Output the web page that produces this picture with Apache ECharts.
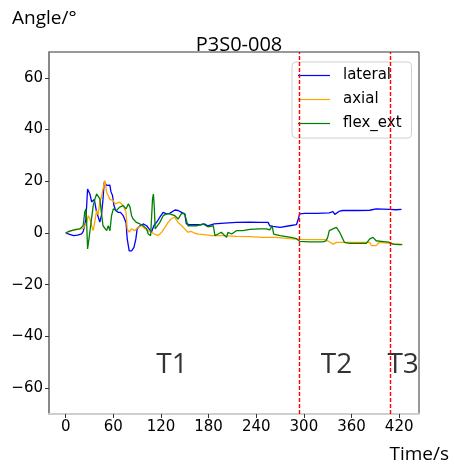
<!DOCTYPE html>
<html><head><meta charset="utf-8">
<script src="https://cdn.jsdelivr.net/npm/echarts@6/dist/echarts.min.js"></script>
<style>html,body{margin:0;padding:0;background:#fff}#c{width:454px;height:466px}</style>
</head><body><div id="c"></div>
<script>
const xTicks = [0, 60, 120, 180, 240, 300, 360, 420];
const yTicks = [-60, -40, -20, 0, 20, 40, 60];
const seriesNames = ['lateral', 'axial', 'flex_ext'];
const dividers = [294, 409];
const phaseLabels = ['T1', 'T2', 'T3'];
const phaseX = [134, 341, 425];
const phaseY = [-51, -51, -51];

const lateral = [[0,0],[5,-0.5],[10,-1],[15,-0.8],[20,-0.3],[22,0.5],[24,3],[25.5,5.4],[27.6,17],[30.6,15],[32.7,12],[36,13],[39,8],[41,6.2],[43,4.2],[45,6.7],[47,13],[48.6,19.8],[51.6,18.4],[53.6,19],[55.7,18.5],[57,16],[59,14.5],[60.8,10.6],[63,8.7],[66,8],[69,8],[72.5,6.7],[76,4.1],[77.5,-2.3],[80,-6.9],[83,-6.9],[86,-5.6],[88.4,-2.3],[90,1.6],[93.5,2.8],[97.6,3.5],[102,2.8],[105,1.6],[108,0.3],[111,2.8],[114.5,4.1],[118.6,6.1],[122.8,8],[127,7.4],[131,7.6],[133,7.8],[137.5,8.9],[141.6,8.7],[146,8],[150,7.4],[152,3.5],[156,3.2],[163,3.2],[171,3.2],[175,3.5],[179,2.8],[187,3.5],[200,3.8],[215,4.1],[232,4.2],[245,4.1],[255,4.1],[257,2.8],[261,2.6],[270,2.2],[282,2.8],[290.6,3.2],[292.6,5],[294.7,7.4],[301,7.6],[316,7.6],[332,7.8],[336.6,8.3],[339,7.2],[341,7.6],[345,8.5],[349,8.7],[366,8.7],[383,8.8],[391,9.3],[408,9.1],[416,9],[423,9.1]];

const axial = [[0,0],[7.5,0.9],[18,1.6],[22,1.8],[26.4,4.1],[28.5,6.7],[30.6,5.4],[32.7,2.8],[34.7,0.9],[36.9,4.8],[39,8.7],[41,7],[43,11.9],[45,13.9],[47,17],[49.4,20.3],[51.6,15.8],[53.6,15.8],[55.7,13],[60,12.5],[62,11.3],[68,11.9],[72.5,10.6],[76,8],[77.5,1.6],[80,0.3],[83,1.6],[87,0.9],[91,2.2],[95.6,2.8],[100,1.6],[104,0.9],[108,0.3],[112,-0.4],[116.5,-1],[121,0.3],[125,2.2],[129,4.1],[133,5.5],[137,6.1],[141.6,4.1],[146,2.8],[150,1.6],[154,0.3],[158.5,0.6],[162.6,-0.1],[167,-0.4],[175,-0.6],[184,-1],[198,-1],[215,-1.3],[232,-1.4],[248,-1.7],[265,-1.7],[282,-2.2],[294.7,-2.5],[311,-2.6],[328,-2.6],[332,-3.4],[336.6,-4.3],[341,-3.6],[366,-3.6],[383,-3.6],[385,-4.9],[391,-4.9],[395,-3.6],[408,-4],[416,-4.3],[423,-4.3]];

const flexExt = [[0,0],[3,0.5],[11.7,1.3],[18,1.6],[22,2.8],[24,8],[25.5,9.3],[26.4,4.1],[27.6,-6.2],[29.3,-2.3],[32,4.1],[34.7,10.6],[36.9,13.2],[39,15.1],[41,15.8],[43,13.2],[45,8],[47,2.8],[49.4,2.2],[51.6,0.9],[53.6,2.8],[55.7,0.9],[57.8,6.7],[60,9.3],[64,8.7],[68,10],[72.5,10.6],[76,9.3],[79,11.3],[81,10],[83,6.7],[85,5.4],[89,4.1],[93.5,3.5],[97.6,2.8],[102,1.6],[104,-0.4],[107,-1],[109.4,13.2],[110.5,15.1],[111.5,10.6],[112.7,1.6],[115,1.6],[118.6,4.1],[122.8,6.7],[127,7.4],[131,7.4],[137.5,6.7],[141.6,5.4],[146,7.6],[150,7.4],[152,5],[154,2.8],[165,2.8],[173,3.5],[179,2.4],[186,2.8],[188,-1],[192,-0.4],[196,0.3],[202.6,-1.7],[204.5,0.3],[209,-0.4],[215,0.9],[223,0.9],[232,1.4],[244,1.6],[253,1.6],[257,1.2],[260,2.8],[262,-0.4],[270,-1],[282,-1.6],[290.6,-2.2],[294.7,-3.2],[307,-3.4],[324,-3.4],[328,-3],[330,-1.7],[332,0.9],[336.6,1.6],[341,2.2],[343,2.4],[345,0.3],[347,-1],[351,-3.6],[357.6,-4],[378.6,-4],[383,-2.3],[387,-1.7],[391,-3],[397.5,-3.2],[404,-3.4],[408,-3.6],[412,-4.3],[420.5,-4.5],[424,-4.5]];

const colors = ['#0000ff', '#ffa500', '#008000'];
const tickFont = 'DejaVu Sans';
const textFont = 'Open Sans';

const chart = echarts.init(document.getElementById('c'), null, {renderer: 'canvas'});
const minus = v => String(v).replace('-', '\u2212');

chart.setOption({
  animation: false,
  backgroundColor: '#fff',
  title: [
    {text: 'P3S0-008', left: 234, top: 30, textAlign: 'center',
     textStyle: {fontFamily: textFont, fontSize: 20, fontWeight: 'normal', color: '#000'}},
    {text: 'Angle/\u00b0', left: 7, top: 4,
     textStyle: {fontFamily: textFont, fontSize: 19, fontWeight: 'normal', color: '#000'}},
    {text: 'Time/s', right: 0, top: 440,
     textStyle: {fontFamily: textFont, fontSize: 19, fontWeight: 'normal', color: '#000'}}
  ],
  grid: {left: 49, right: 35, top: 52, bottom: 52, show: true, borderColor: '#333', borderWidth: 1, containLabel: false},
  legend: {
    data: seriesNames, orient: 'vertical', left: 292, top: 62,
    padding: [6, 10, 7, 6], itemGap: 9, itemWidth: 32, itemHeight: 14,
    icon: 'path://M0,6.5 L32,6.5 L32,7.7 L0,7.7 Z',
    backgroundColor: 'rgba(255,255,255,0.8)', borderColor: '#d0d0d0', borderWidth: 1, borderRadius: 4,
    textStyle: {fontFamily: tickFont, fontSize: 15, color: '#000', padding: [0, 0, 0, 8]}
  },
  xAxis: {
    type: 'value', min: -21, max: 445,
    axisLine: {show: true, onZero: false, lineStyle: {color: '#cfcfcf', width: 2}},
    axisTick: {show: true, customValues: xTicks, length: 4, lineStyle: {color: '#333'}},
    axisLabel: {customValues: xTicks, margin: 6, fontFamily: tickFont, fontSize: 15, color: '#000', formatter: minus},
    splitLine: {show: false}
  },
  yAxis: {
    type: 'value', min: -70, max: 70,
    axisLine: {show: true, onZero: false, lineStyle: {color: '#888', width: 2}},
    axisTick: {show: true, customValues: yTicks, length: 4, lineStyle: {color: '#333'}},
    axisLabel: {customValues: yTicks, margin: 6, fontFamily: tickFont, fontSize: 15, color: '#000', formatter: minus},
    splitLine: {show: false}
  },
  series: [
    {name: 'lateral', type: 'line', data: lateral, symbol: 'none', lineStyle: {color: colors[0], width: 1.3}, itemStyle: {color: colors[0]},
     markLine: {silent: true, symbol: ['none', 'none'], label: {show: false},
       lineStyle: {color: '#ff0000', type: [4, 2], width: 1.4},
       data: dividers.map(x => ({xAxis: x}))}},
    {name: 'axial', type: 'line', data: axial, symbol: 'none', lineStyle: {color: colors[1], width: 1.3}, itemStyle: {color: colors[1]}},
    {name: 'flex_ext', type: 'line', data: flexExt, symbol: 'none', lineStyle: {color: colors[2], width: 1.3}, itemStyle: {color: colors[2]}},
    {name: 'phases', type: 'scatter', symbolSize: 1, itemStyle: {color: 'rgba(0,0,0,0)'},
     data: phaseX.map((x, i) => [x, phaseY[i], phaseLabels[i]]),
     label: {show: true, position: 'inside', formatter: p => p.data[2], fontFamily: textFont, fontSize: 28, color: '#000'},
     labelLayout: {hideOverlap: false}}
  ]
});
</script></body></html>
